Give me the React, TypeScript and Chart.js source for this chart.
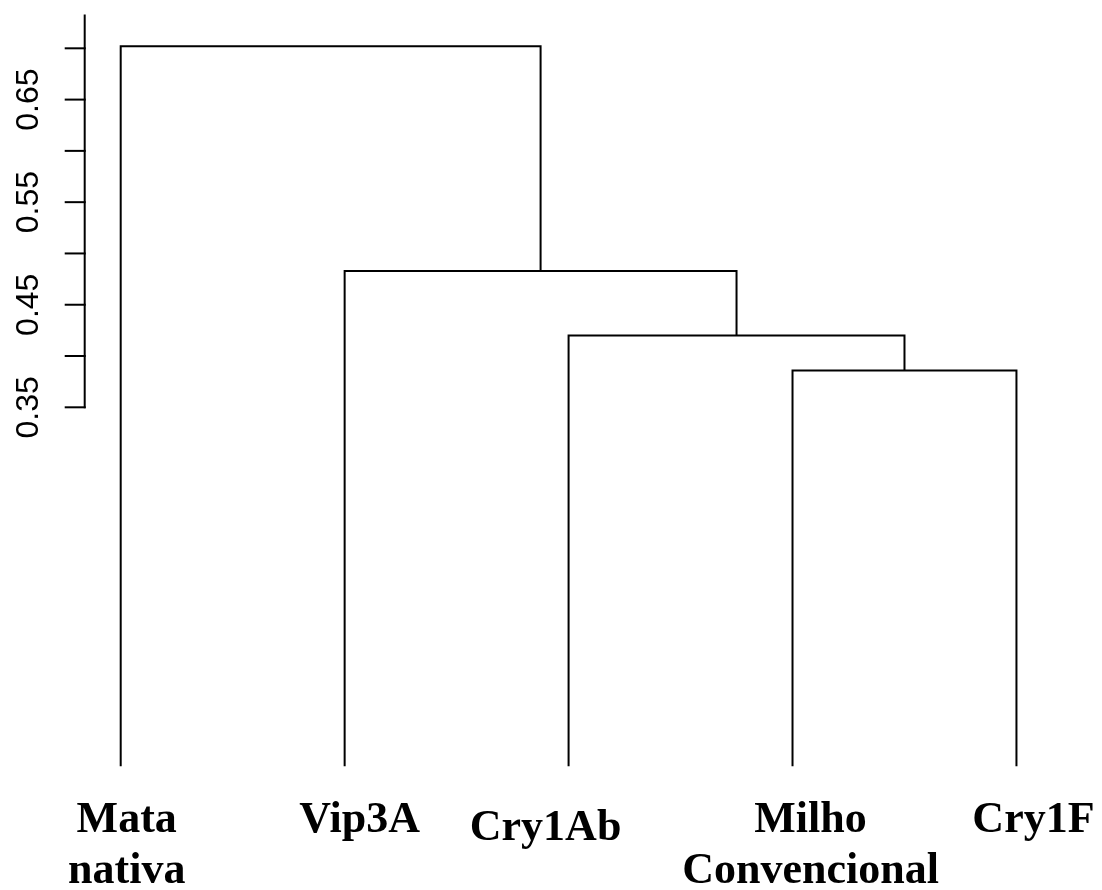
import React, { useEffect, useRef } from "react";
import { Chart, registerables } from "chart.js";

Chart.register(...registerables);

// ---- data ----
const leafLabelLines: string[][] = [["Mata", "nativa"], ["Vip3A"], ["Cry1Ab"], ["Milho", "Convencional"], ["Cry1F"]];
const leafHeights = [0, 0, 0, 0, 0];
// R hclust-style merge table: negative = leaf (1-based), positive = earlier merge
const mergeLeft = [-4, -3, -2, -1];
const mergeRight = [-5, 1, 2, 3];
const mergeHeights = [0.386, 0.42, 0.483, 0.702];
const yTickValues = [0.35, 0.4, 0.45, 0.5, 0.55, 0.6, 0.65, 0.7];
const yTickLabels = ["0.35", "", "0.45", "", "0.55", "", "0.65", ""];
const yAxisLow = 0.35;
const yAxisHigh = 0.733;

// ---- styles ----
const labelDx = [6, 15, -23, 18, 17];
const labelDy = [66, 66, 74, 66, 66];
const labelLineHeight = 51;

function buildSegments() {
  const clusterX: number[] = [];
  const clusterH: number[] = [];
  const nodeX = (id: number) => (id < 0 ? -id : clusterX[id - 1]);
  const nodeH = (id: number) => (id < 0 ? leafHeights[-id - 1] : clusterH[id - 1]);
  const sets: { x: number; y: number }[][] = [];
  for (let i = 0; i < mergeHeights.length; i++) {
    const lx = nodeX(mergeLeft[i]);
    const rx = nodeX(mergeRight[i]);
    const lh = nodeH(mergeLeft[i]);
    const rh = nodeH(mergeRight[i]);
    const h = mergeHeights[i];
    sets.push([
      { x: lx, y: lh },
      { x: lx, y: h },
      { x: rx, y: h },
      { x: rx, y: rh },
    ]);
    clusterX.push((lx + rx) / 2);
    clusterH.push(h);
  }
  return sets;
}

const overlayPlugin = {
  id: "dendroOverlay",
  afterDraw(chart: any) {
    const ctx = chart.ctx;
    const xs = chart.scales.x;
    const ys = chart.scales.y;
    ctx.save();
    ctx.strokeStyle = "#000";
    ctx.fillStyle = "#000";
    ctx.lineWidth = 2;
    ctx.lineCap = "butt";
    // y axis
    const axX = xs.getPixelForValue(1) - 36;
    ctx.beginPath();
    ctx.moveTo(axX, ys.getPixelForValue(yAxisHigh));
    ctx.lineTo(axX, ys.getPixelForValue(yAxisLow) + 1);
    ctx.stroke();
    ctx.font = "32px 'Liberation Sans', Arial, sans-serif";
    ctx.textAlign = "center";
    ctx.textBaseline = "alphabetic";
    yTickValues.forEach((v, i) => {
      const py = ys.getPixelForValue(v);
      ctx.beginPath();
      ctx.moveTo(axX - 20, py);
      ctx.lineTo(axX + 1, py);
      ctx.stroke();
      if (yTickLabels[i]) {
        ctx.save();
        ctx.translate(axX - 47, py);
        ctx.rotate(-Math.PI / 2);
        ctx.fillText(yTickLabels[i], 0, 0);
        ctx.restore();
      }
    });
    // leaf labels
    ctx.font = "bold 44px 'Liberation Serif', 'Times New Roman', serif";
    ctx.textAlign = "center";
    leafLabelLines.forEach((lines, i) => {
      const px = xs.getPixelForValue(i + 1) + labelDx[i];
      const py0 = ys.getPixelForValue(leafHeights[i]) + labelDy[i];
      lines.forEach((t, j) => ctx.fillText(t, px, py0 + j * labelLineHeight));
    });
    ctx.restore();
  },
};

export default function App() {
  const ref = useRef<HTMLCanvasElement>(null);
  useEffect(() => {
    if (!ref.current) return;
    const segs = buildSegments();
    const chart = new Chart(ref.current, {
      type: "scatter",
      data: {
        datasets: segs.map((pts) => ({
          data: pts,
          showLine: true,
          borderColor: "#000",
          borderWidth: 2,
          pointRadius: 0,
          borderJoinStyle: "miter" as const,
          borderCapStyle: "butt" as const,
          tension: 0,
          clip: false as any,
        })),
      },
      options: {
        animation: false,
        responsive: true,
        maintainAspectRatio: false,
        layout: { padding: 0 },
        plugins: { legend: { display: false }, tooltip: { enabled: false } },
        events: [],
        scales: {
          x: { type: "linear", min: 0.461, max: 5.382, display: false },
          y: { type: "linear", min: -0.1206, max: 0.7471, display: false },
        },
      },
      plugins: [overlayPlugin],
    });
    return () => chart.destroy();
  }, []);
  return (
    <div style={{ position: "fixed", left: 0, top: 0, width: 1102, height: 890, background: "#fff" }}>
      <canvas ref={ref} />
    </div>
  );
}
